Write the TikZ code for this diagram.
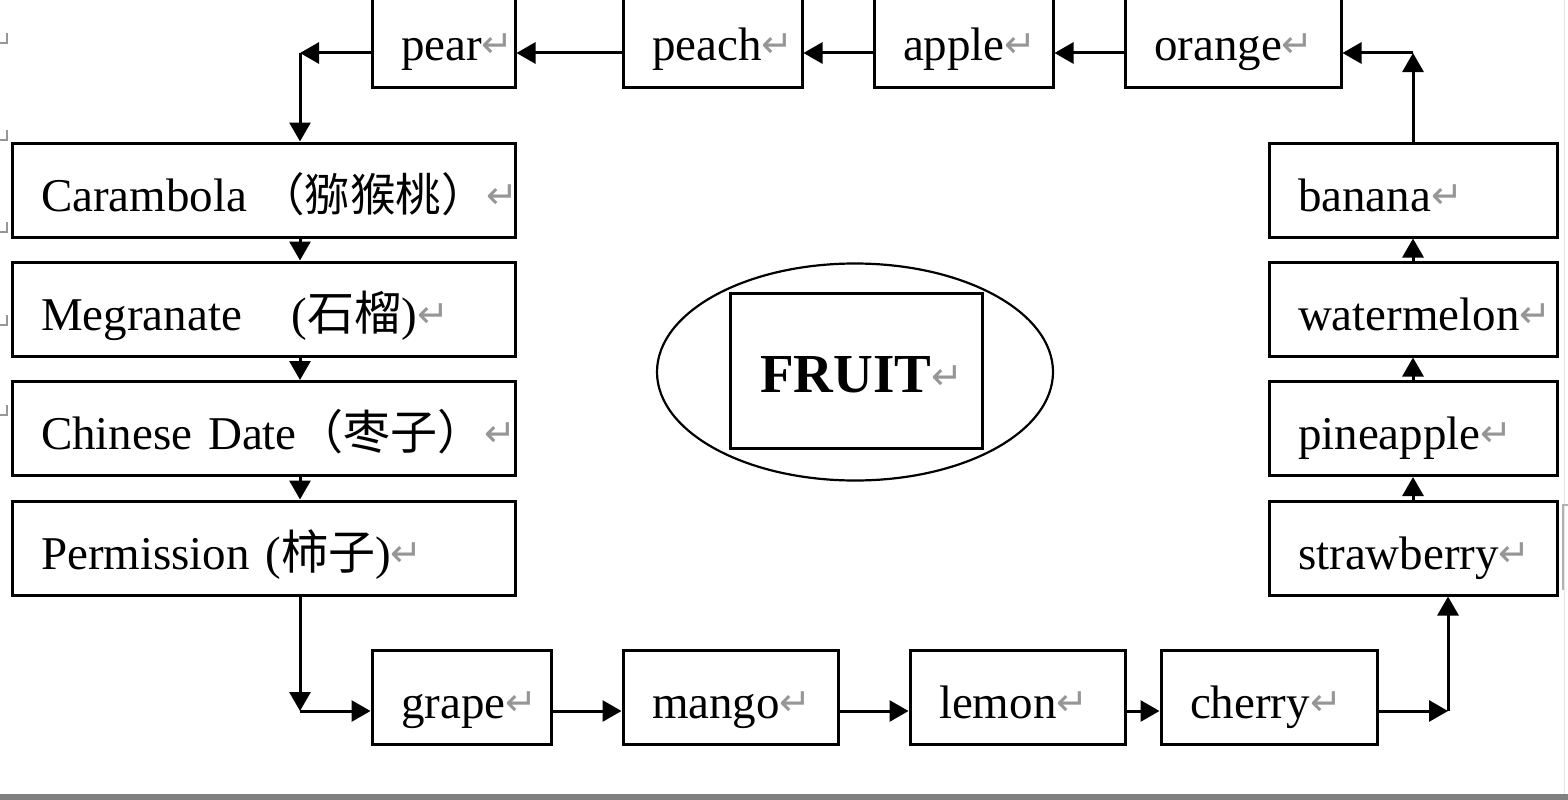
\documentclass[tikz,border=0pt]{standalone}
\usepackage{fontspec}
\setmainfont{Liberation Serif}
\newfontfamily\cjkf{Noto Sans CJK SC}
\newfontfamily\djv{DejaVu Sans}
\usetikzlibrary{arrows.meta,shapes.geometric}
\definecolor{markgray}{RGB}{150,150,150}
\definecolor{bargray}{RGB}{128,128,128}
\newcommand\parmark{{\mdseries\color{markgray}\djv\fontsize{38}{38}\selectfont\raisebox{3pt}{↵}}}
\newcommand\zh[1]{{\cjkf\fontsize{47}{47}\selectfont #1}}
\newcommand\zhs[1]{{\cjkf\fontsize{45.5}{47}\selectfont #1}}
\begin{document}
\begin{tikzpicture}[x=1pt,y=-1pt,
  fbox/.style={draw, line width=3pt, inner xsep=29pt, inner ysep=0pt,
    minimum height=94pt, text height=50pt, text depth=8pt, align=left,
    font=\fontsize{47}{56}\selectfont},
  arr/.style={line width=3pt, -{Triangle[length=19pt,width=21pt]}},
  ctr/.style={draw, line width=2.2pt},
  wordmark/.style={markgray, line width=1.2pt}]
\useasboundingbox (0,0) rectangle (1568,800);

% top row
\node[fbox, text width=85pt]  (pear)   at (443.5,40) {pear\parmark};
\node[fbox, text width=121pt] (peach)  at (712.5,40) {peach\parmark};
\node[fbox, text width=121pt] (apple)  at (963.5,40) {apple\parmark};
\node[fbox, text width=158pt] (orange) at (1233,40)  {orange\parmark};

% left column
\node[fbox, text width=445pt] (car)  at (263.5,190) {\mbox{Carambola\hspace{12pt}\zhs{（猕猴桃）}\parmark}};
\node[fbox, text width=445pt] (meg)  at (263.5,309) {\mbox{Megranate\hspace{50pt}(\zh{石榴})\parmark}};
\node[fbox, text width=445pt] (date) at (263.5,428.5) {\mbox{Chinese Date\zh{（枣子）}\parmark}};
\node[fbox, text width=445pt] (per)  at (263.5,548) {\mbox{Permission (\zh{柿子})\parmark}};

% right column
\node[fbox, text width=230pt] (ban) at (1413,190)   {banana\parmark};
\node[fbox, text width=230pt] (wat) at (1413,309)   {watermelon\parmark};
\node[fbox, text width=230pt] (pin) at (1413,428.5) {pineapple\parmark};
\node[fbox, text width=230pt] (str) at (1413,548)   {strawberry\parmark};

% bottom row
\node[fbox, text width=121pt] (gra) at (461.5,697.5)  {grape\parmark};
\node[fbox, text width=157pt] (man) at (730.5,697.5)  {mango\parmark};
\node[fbox, text width=157pt] (lem) at (1017.5,697.5) {lemon\parmark};
\node[fbox, text width=158pt] (che) at (1269,697.5)   {cherry\parmark};

% centre
\node[ctr, ellipse, minimum width=396pt, minimum height=217pt] (ell) at (855,372) {};
\node[draw, line width=3pt, minimum height=155pt, inner xsep=30pt, inner ysep=0pt,
  text width=192pt, align=left, text height=50pt, text depth=7pt,
  font=\bfseries\fontsize{55}{60}\selectfont] (fruit) at (856,370.5) {FRUIT\parmark};

% corners
\coordinate (c1) at (1413,53);
\coordinate (c2) at (300,53);
\coordinate (c3) at (300,711);
\coordinate (c4) at (1448,711);

% connectors
\draw[arr] (ban.north) -- (c1);
\draw[arr] (c1) -- ([yshift=-13pt]orange.east);
\draw[arr] ([yshift=-13pt]orange.west) -- ([yshift=-13pt]apple.east);
\draw[arr] ([yshift=-13pt]apple.west) -- ([yshift=-13pt]peach.east);
\draw[arr] ([yshift=-13pt]peach.west) -- ([yshift=-13pt]pear.east);
\draw[arr] ([yshift=-13pt]pear.west) -- (c2);
\draw[arr] (c2) -- (c2 |- car.north);
\draw[arr] (c2 |- car.south) -- (c2 |- meg.north);
\draw[arr] (c2 |- meg.south) -- (c2 |- date.north);
\draw[arr] (c2 |- date.south) -- (c2 |- per.north);
\draw[arr] (c2 |- per.south) -- (c3);
\draw[arr] (c3) -- ([yshift=-13.5pt]gra.west);
\draw[arr] ([yshift=-13.5pt]gra.east) -- ([yshift=-13.5pt]man.west);
\draw[arr] ([yshift=-13.5pt]man.east) -- ([yshift=-13.5pt]lem.west);
\draw[arr] ([yshift=-13.5pt]lem.east) -- ([yshift=-13.5pt]che.west);
\draw[arr] ([yshift=-13.5pt]che.east) -- (c4);
\draw[arr] (c4) -- (c4 |- str.south);
\draw[arr] (str.north) -- (pin.south);
\draw[arr] (pin.north) -- (wat.south);
\draw[arr] (wat.north) -- (ban.south);

% word-processor marks and window edge
\foreach \y in {43,140,232,325,415}
  \draw[wordmark] (7,\y-10) -- (7,\y) -- (0,\y);
\draw[gray!20, line width=1pt] (1564,0) -- (1564,794);
\draw[gray!60, line width=1.2pt] (1568,505) -- (1563,505) -- (1563,590);
\fill[bargray] (0,794) rectangle (1568,800);
\end{tikzpicture}
\end{document}
